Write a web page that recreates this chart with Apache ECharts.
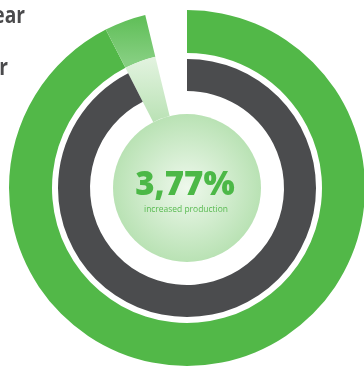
<!DOCTYPE html>
<html>
<head>
<meta charset="utf-8">
<title>Production ring</title>
<script src="https://cdn.jsdelivr.net/npm/echarts@6/dist/echarts.min.js"></script>
<style>
  html, body { margin: 0; padding: 0; background: #fff; }
  #chart { width: 364px; height: 367px; }
</style>
</head>
<body>
<div id="chart"></div>
<script>
// ring labels (cut off at the left edge in the original)
var ringLabels = ['This year', 'Last year'];
// outer ring: last year part, increase, empty rest (percent of full circle)
var outerValues = [92.46, 3.77, 3.77];
// inner dark ring: last year, empty rest
var innerValues = [92.46, 7.54];
// centre text
var headline = ['3,77%', 'increased production'];

var cx = 187, cy = 188;
var green = '#52b848', dark = '#4b4c4e';
var none = 'rgba(0,0,0,0)';

function grad(y0, y1, c0, c1) {
  return new echarts.graphic.LinearGradient(0, y0, 0, y1, [
    { offset: 0, color: c0 }, { offset: 1, color: c1 }
  ], true);
}

var base = {
  type: 'pie',
  center: [cx, cy],
  startAngle: 90,
  clockwise: true,
  silent: true,
  animation: false,
  avoidLabelOverlap: false,
  label: { show: false },
  labelLine: { show: false },
  emphasis: { disabled: true }
};

var myChart = echarts.init(document.getElementById('chart'), null, { renderer: 'canvas' });
myChart.setOption({
  backgroundColor: '#fff',
  series: [
    Object.assign({}, base, {
      name: 'outer',
      radius: [135, 178],
      data: [
        { value: outerValues[0], itemStyle: { color: green } },
        { value: outerValues[1], itemStyle: { color: grad(12, 62, '#5cbd54', '#86cf81') } },
        { value: outerValues[2], itemStyle: { color: none } }
      ]
    }),
    Object.assign({}, base, {
      name: 'wedge',
      radius: [74, 135],
      data: [
        { value: outerValues[0], itemStyle: { color: none } },
        { value: outerValues[1], itemStyle: { color: grad(58, 125, '#e2f3df', '#b8e1b3') } },
        { value: outerValues[2], itemStyle: { color: none } }
      ]
    }),
    Object.assign({}, base, {
      name: 'inner',
      radius: [97, 129],
      data: [
        { value: innerValues[0], itemStyle: { color: dark } },
        { value: innerValues[1], itemStyle: { color: none } }
      ]
    }),
    Object.assign({}, base, {
      name: 'centre',
      radius: [0, 74],
      data: [{
        value: 1,
        itemStyle: {
          color: new echarts.graphic.RadialGradient(0.5, 0.5, 0.5, [
            { offset: 0, color: '#eef8ec' },
            { offset: 1, color: '#b9e2b4' }
          ])
        }
      }]
    })
  ],
  graphic: [
    { type: 'text', z: 100, x: 25, y: 16, scaleX: 0.8, style: { text: ringLabels[0], fill: '#4a4a4c', font: 'bold 24px "Open Sans"', align: 'right', verticalAlign: 'middle' } },
    { type: 'text', z: 100, x: 8, y: 68, scaleX: 0.8, style: { text: ringLabels[1], fill: '#4a4a4c', font: 'bold 24px "Open Sans"', align: 'right', verticalAlign: 'middle' } },
    { type: 'text', z: 100, x: cx - 2, y: 186, style: { text: headline[0], fill: '#4cb847', font: '800 33px "Open Sans"', align: 'center', verticalAlign: 'middle' } },
    { type: 'text', z: 100, x: cx - 1, y: 209, scaleX: 0.94, style: { text: headline[1], fill: '#58ba51', font: '9px "Open Sans"', align: 'center', verticalAlign: 'middle' } }
  ]
});
window.addEventListener('resize', function() { myChart.resize(); });
</script>
</body>
</html>
